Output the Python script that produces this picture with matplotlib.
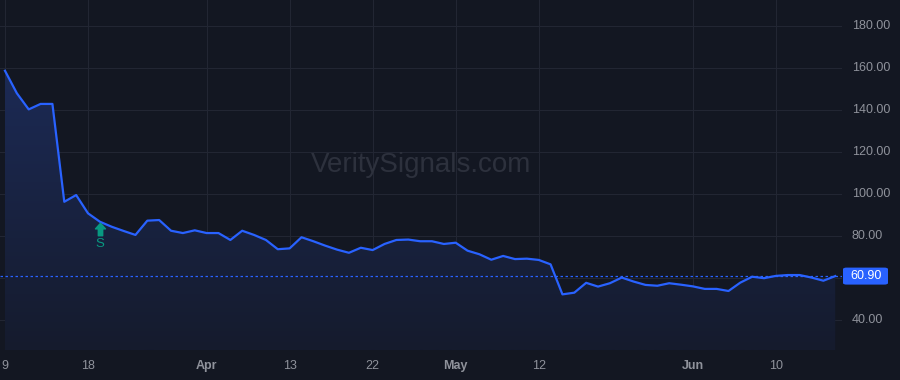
import matplotlib.pyplot as plt
import numpy as np
import pandas as pd
from matplotlib.patches import Polygon, FancyBboxPatch
from matplotlib.path import Path
from matplotlib.colors import LinearSegmentedColormap

plt.rcParams['font.family'] = ['Liberation Sans', 'DejaVu Sans']

# trading days, Mar 9 - Jun 17 (Good Friday and Memorial Day closed)
dates = pd.bdate_range('2026-03-09', '2026-06-17')
dates = dates[~dates.isin(pd.to_datetime(['2026-04-03', '2026-05-25']))]

prices = [
    158.7, 148.0, 140.3, 142.9, 142.9, 96.3, 99.5, 90.8, 86.8, 84.4,
    82.4, 80.5, 87.3, 87.6, 82.5, 81.4, 82.7, 81.4, 81.4, 78.1,
    82.5, 80.5, 78.1, 73.7, 74.1, 79.4, 77.5, 75.4, 73.5, 72.0,
    74.4, 73.3, 76.2, 78.1, 78.3, 77.5, 77.5, 76.2, 76.8, 73.0,
    71.3, 68.7, 70.5, 69.0, 69.2, 68.6, 66.5, 52.2, 53.0, 57.7,
    55.9, 57.5, 60.2, 58.3, 56.7, 56.3, 57.5, 56.8, 56.0, 54.8,
    54.8, 53.8, 57.8, 60.6, 59.9, 61.0, 61.4, 61.4, 60.2, 58.7,
    60.9,
]
last_price = 60.90

tick_dates = ['2026-03-09', '2026-03-18', '2026-04-01', '2026-04-13', '2026-04-22',
              '2026-05-01', '2026-05-12', '2026-06-01', '2026-06-10']
tick_labels = ['9', '18', 'Apr', '13', '22', 'May', '12', 'Jun', '10']
tick_bold = [False, False, True, False, False, True, False, True, False]
yticks = [40, 60, 80, 100, 120, 140, 160, 180]
ytick_shown = [40, 80, 100, 120, 140, 160, 180]

signal_date = '2026-03-19'
signal_text = 'S'

BG = '#131722'
GRID = '#222633'
LINE = '#2962ff'
TEXT = '#8f929b'
SIGNAL = '#089981'
YMIN, YMAX = 25.7, 192.4

x = np.arange(len(prices))
pos = {d: i for i, d in enumerate(dates)}

fig = plt.figure(figsize=(9, 3.8), dpi=100, facecolor=BG)
ax = fig.add_axes([0, 30 / 380, 842 / 900, 350 / 380])
ax.set_facecolor(BG)
ax.set_xlim(-0.42, 70.57)
ax.set_ylim(YMIN, YMAX)

# grid
tick_x = [pos[pd.Timestamp(d)] for d in tick_dates]
for t in tick_x:
    ax.axvline(t, color=GRID, lw=0.8, zorder=0)
for v in yticks:
    ax.axhline(v, color=GRID, lw=0.8, zorder=0)

# gradient area under the line
grad = np.linspace(0, 1, 256).reshape(-1, 1)
cmap = LinearSegmentedColormap.from_list('fill', ['#151b2d', '#1c2a55'])
img = ax.imshow(grad, cmap=cmap, origin='lower', aspect='auto',
                extent=[x[0], x[-1], YMIN, max(prices)], zorder=1)
verts = [(x[0], YMIN)] + list(zip(x, prices)) + [(x[-1], YMIN)]
clip = Polygon(verts, closed=True, facecolor='none', edgecolor='none')
ax.add_patch(clip)
img.set_clip_path(clip)

ax.plot(x, prices, color=LINE, lw=1.6, zorder=3, solid_joinstyle='round')
ax.axhline(last_price, color=LINE, lw=0.9, ls=(0, (2, 2)), zorder=2)

# signal marker: up arrow with stem
arrow = Path([(0, 1), (-0.8, 0.1), (-0.35, 0.1), (-0.35, -1), (0.35, -1),
              (0.35, 0.1), (0.8, 0.1), (0, 1)], closed=True)
sx = pos[pd.Timestamp(signal_date)]
ax.plot([sx], [83.4], marker=arrow, markersize=9, color=SIGNAL, lw=0, zorder=4)
ax.text(sx, 76.3, signal_text, color=SIGNAL, fontsize=9.5, ha='center', va='center', zorder=4)

# watermark
ax.text(0.5, 0.53, 'VeritySignals.com', transform=ax.transAxes, ha='center', va='center',
        fontsize=20, color='#2d313d', zorder=0.5)

for s in ax.spines.values():
    s.set_visible(False)
ax.set_xticks([])
ax.set_yticks([])

# y axis labels
for v in ytick_shown:
    ax.text(852 / 842, v, f'{v:.2f}', transform=ax.get_yaxis_transform(),
            color=TEXT, fontsize=9, ha='left', va='center', clip_on=False)

# last price tag
tag_y = (last_price - YMIN) / (YMAX - YMIN)
fig.patches.append(FancyBboxPatch((843 / 900, (30 + tag_y * 350 - 8.5) / 380), 45 / 900, 17 / 380,
                                  boxstyle='round,pad=0,rounding_size=0.004',
                                  transform=fig.transFigure, facecolor=LINE, edgecolor='none'))
fig.text(866 / 900, (30 + tag_y * 350) / 380, f'{last_price:.2f}', color='white',
         fontsize=9, ha='center', va='center')

# x axis labels
for t, lab, b in zip(tick_x, tick_labels, tick_bold):
    ax.text(t, -16 / 350, lab, transform=ax.get_xaxis_transform(), color=TEXT,
            fontsize=9, ha='center', va='center', fontweight='bold' if b else 'normal',
            clip_on=False)

fig.savefig('out.png', dpi=100, facecolor=BG)
